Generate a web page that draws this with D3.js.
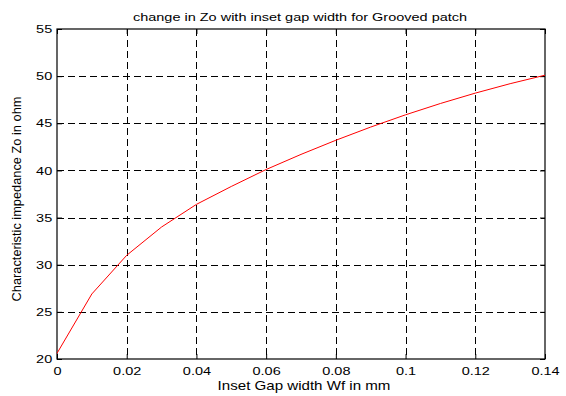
<!DOCTYPE html>
<html>
<head>
<meta charset="utf-8">
<script src="https://cdn.jsdelivr.net/npm/d3@7"></script>
<style>
  body { margin: 0; background: #fff; }
  text { font-family: "Liberation Sans", Arial, sans-serif; fill: #000; }
</style>
</head>
<body>
<div id="chart"></div>
<script>
// Data
const gapWidth = [0, 0.01, 0.02, 0.03, 0.04, 0.05, 0.06, 0.07, 0.08, 0.09, 0.10, 0.11, 0.12, 0.13, 0.14];
const impedance = [20.6, 26.9, 31.0, 34.0, 36.4, 38.3, 40.1, 41.7, 43.2, 44.6, 45.9, 47.1, 48.2, 49.2, 50.1];
const xTicks = [0, 0.02, 0.04, 0.06, 0.08, 0.1, 0.12, 0.14];
const yTicks = [20, 25, 30, 35, 40, 45, 50, 55];

const width = 566, height = 396;
const margin = { top: 29, right: 21, bottom: 37, left: 57 };
// the reference text looks stretched sideways
const stretch = 1.26;

const svg = d3.select("#chart").append("svg")
    .attr("width", width)
    .attr("height", height);

const x = d3.scaleLinear().domain([0, 0.14]).range([margin.left, width - margin.right]);
const y = d3.scaleLinear().domain([20, 55]).range([height - margin.bottom, margin.top]);

// Grid lines
const grid = svg.append("g").attr("stroke", "#000").attr("stroke-width", 1)
    .attr("stroke-dasharray", "7,4");
grid.selectAll(".vgrid")
    .data(xTicks.slice(1, -1))
    .enter().append("line")
    .attr("x1", d => Math.round(x(d)) + 0.5).attr("x2", d => Math.round(x(d)) + 0.5)
    .attr("y1", y(55)).attr("y2", y(20));
grid.selectAll(".hgrid")
    .data(yTicks.slice(1, -1))
    .enter().append("line")
    .attr("y1", d => Math.round(y(d)) + 0.5).attr("y2", d => Math.round(y(d)) + 0.5)
    .attr("x1", x(0)).attr("x2", x(0.14));

// Axes
svg.append("g")
    .attr("class", "xaxis")
    .attr("transform", `translate(0,${y(20)})`)
    .call(d3.axisBottom(x).tickValues(xTicks).tickSizeInner(-5).tickSizeOuter(0).tickPadding(7.5)
        .tickFormat(d => d === 0 ? "0" : d3.format("~g")(d)));
svg.append("g")
    .attr("class", "yaxis")
    .attr("transform", `translate(${x(0)},0)`)
    .call(d3.axisLeft(y).tickValues(yTicks).tickSizeInner(-5).tickSizeOuter(0).tickPadding(3.8));

// Top and right ticks
svg.append("g")
    .attr("transform", `translate(0,${y(55)})`)
    .call(d3.axisTop(x).tickValues(xTicks).tickSizeInner(-5).tickSizeOuter(0).tickFormat(""));
svg.append("g")
    .attr("transform", `translate(${x(0.14)},0)`)
    .call(d3.axisRight(y).tickValues(yTicks).tickSizeInner(-5).tickSizeOuter(0).tickFormat(""));

svg.selectAll(".domain").remove();
svg.selectAll(".tick text")
    .attr("font-size", 11.5)
    .attr("font-family", "'Liberation Sans', Arial, sans-serif")
    .attr("transform", `scale(${stretch},1)`);

// Frame
svg.append("rect")
    .attr("x", x(0)).attr("y", y(55))
    .attr("width", x(0.14) - x(0)).attr("height", y(20) - y(55))
    .attr("fill", "none").attr("stroke", "#000").attr("stroke-width", 1.2);

// Curve
const line = d3.line()
    .x((d, i) => x(gapWidth[i]))
    .y(d => y(d));
svg.append("path")
    .datum(impedance)
    .attr("d", line)
    .attr("fill", "none")
    .attr("stroke", "#ff0000")
    .attr("stroke-width", 1);

// Titles
svg.append("text")
    .attr("transform", `translate(300,20.5) scale(${stretch},1)`)
    .attr("text-anchor", "middle").attr("font-size", 11.5)
    .text("change in Zo with inset gap width for Grooved patch");
svg.append("text")
    .attr("transform", `translate(304,389.5) scale(${stretch},1)`)
    .attr("text-anchor", "middle").attr("font-size", 12)
    .text("Inset Gap width Wf in mm");
svg.append("text")
    .attr("transform", `translate(20.5,199) rotate(-90)`)
    .attr("text-anchor", "middle").attr("font-size", 12.8)
    .text("Characteristic impedance Zo in ohm");
</script>
</body>
</html>
